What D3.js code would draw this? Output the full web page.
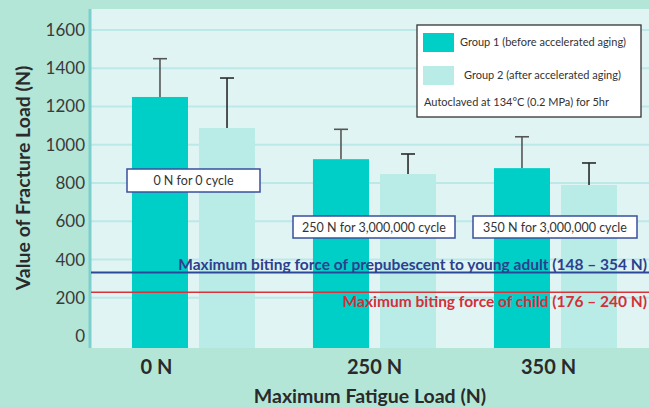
<!DOCTYPE html>
<html>
<head>
<meta charset="utf-8">
<script src="https://cdn.jsdelivr.net/npm/d3@7"></script>
<style>
  html, body { margin: 0; padding: 0; background: #b4e6d8; }
  svg { display: block; font-family: Lato, "Open Sans", sans-serif; }
</style>
</head>
<body>
<svg id="chart" width="649" height="407"></svg>
<script>
// ---- data ----
const categories = ["0 N", "250 N", "350 N"];
const seriesNames = ["Group 1 (before accelerated aging)", "Group 2 (after accelerated aging)"];
const group1Mean = [1250, 925, 878];
const group1SD = [200, 156, 164];
const group2Mean = [1088, 847, 790];
const group2SD = [261, 105, 115];
const yTicks = [0, 200, 400, 600, 800, 1000, 1200, 1400, 1600];
const cycleLabels = ["0 N for 0 cycle", "250 N for 3,000,000 cycle", "350 N for 3,000,000 cycle"];
const refLines = [
  { value: 354, label: "Maximum biting force of prepubescent to young adult (148 \u2013 354 N)" },
  { value: 240, label: "Maximum biting force of child (176 \u2013 240 N)" }
];
const noteText = "Autoclaved at 134\u00B0C (0.2 MPa) for 5hr";

// ---- layout ----
const W = 649, H = 407;
const plot = { left: 91, right: 649, top: 9, bottom: 348 };
const colors = ["#00cfc7", "#b9ebe7"];
const refColors = ["#2c4899", "#d8333b"];
const refTextColors = ["#2d3f8e", "#d3303a"];

const svg = d3.select("#chart");

svg.append("rect").attr("x", plot.left).attr("y", plot.top)
  .attr("width", plot.right - plot.left).attr("height", plot.bottom - plot.top)
  .attr("fill", "#e0f5f3");

const y = d3.scaleLinear().domain([-62, 1600]).range([plot.bottom, 30]);
const x0 = d3.scaleBand().domain(categories).range([103, 646]).paddingInner(0.32).paddingOuter(0.16);
const x1 = d3.scaleBand().domain([0, 1]).range([0, x0.bandwidth()]).paddingInner(11 / 67);

// gridlines
svg.append("g").selectAll("line").data(yTicks.slice(1)).join("line")
  .attr("x1", plot.left).attr("x2", plot.right)
  .attr("y1", d => y(d)).attr("y2", d => y(d))
  .attr("stroke", "#bde8e8").attr("stroke-width", 2);

// y axis
const yAxis = svg.append("g").attr("transform", `translate(${plot.left - 4},0)`)
  .call(d3.axisLeft(y).tickValues(yTicks).tickFormat(d3.format("d")).tickSize(0).tickPadding(2));
yAxis.select(".domain").remove();
yAxis.selectAll("text").attr("font-size", 17).attr("fill", "#3a3a3a")
  .attr("font-family", "Lato, sans-serif");
svg.append("line").attr("x1", plot.left - 1).attr("x2", plot.left - 1)
  .attr("y1", plot.top).attr("y2", plot.bottom)
  .attr("stroke", "#7ccfcc").attr("stroke-width", 3);

// bars
const data = categories.map((c, i) => ({
  cat: c,
  vals: [{ s: 0, m: group1Mean[i], sd: group1SD[i] }, { s: 1, m: group2Mean[i], sd: group2SD[i] }]
}));

const groups = svg.append("g").selectAll("g").data(data).join("g")
  .attr("transform", d => `translate(${x0(d.cat)},0)`);

groups.selectAll("g.err").data(d => d.vals).join("g").attr("class", "err")
  .each(function(d) {
    const g = d3.select(this);
    const cx = x1(d.s) + x1.bandwidth() / 2;
    const col = d.s === 0 ? "#555" : "#2a2a2a";
    g.append("line").attr("x1", cx).attr("x2", cx)
      .attr("y1", y(d.m)).attr("y2", y(d.m + d.sd))
      .attr("stroke", col).attr("stroke-width", 1.6);
    g.append("line").attr("x1", cx - 7).attr("x2", cx + 7)
      .attr("y1", y(d.m + d.sd)).attr("y2", y(d.m + d.sd))
      .attr("stroke", col).attr("stroke-width", 1.6);
  });

groups.selectAll("rect").data(d => d.vals).join("rect")
  .attr("x", d => x1(d.s)).attr("width", x1.bandwidth())
  .attr("y", d => y(d.m)).attr("height", d => y.range()[0] - y(d.m))
  .attr("fill", d => colors[d.s]);

// reference lines
refLines.forEach((r, i) => {
  const ly = y(r.value) + (i === 0 ? 4 : 2);
  svg.append("line").attr("x1", plot.left).attr("x2", plot.right)
    .attr("y1", ly).attr("y2", ly)
    .attr("stroke", refColors[i]).attr("stroke-width", i === 0 ? 2 : 1.5);
  svg.append("text").attr("x", 647).attr("y", i === 0 ? ly - 2 : ly + 15)
    .attr("text-anchor", "end").attr("font-size", 15.5).attr("font-weight", "bold")
    .attr("fill", refTextColors[i]).text(r.label);
});

// cycle annotation boxes
const boxes = [
  { x: 127, y: 169, w: 133, h: 23 },
  { x: 293, y: 216, w: 162, h: 22 },
  { x: 473, y: 216, w: 164, h: 22 }
];
cycleLabels.forEach((t, i) => {
  const b = boxes[i];
  svg.append("rect").attr("x", b.x).attr("y", b.y).attr("width", b.w).attr("height", b.h)
    .attr("fill", "#fff").attr("stroke", "#3a4f9e").attr("stroke-width", 1.5);
  svg.append("text").attr("x", b.x + b.w / 2).attr("y", b.y + b.h / 2 + 4.5)
    .attr("text-anchor", "middle").attr("font-size", 12.5).attr("fill", "#333").text(t);
});

// x axis labels
const xOffsets = [-37, 0, -7];
const xAxis = svg.append("g").attr("transform", `translate(0,${plot.bottom})`)
  .call(d3.axisBottom(x0).tickSize(0).tickPadding(12));
xAxis.select(".domain").remove();
xAxis.selectAll("text").attr("font-size", 20).attr("font-weight", "bold").attr("fill", "#2a2a2a")
  .attr("font-family", "Lato, sans-serif")
  .attr("dx", (d, i) => xOffsets[i]);

// axis titles
svg.append("text").attr("x", 370).attr("y", 403).attr("text-anchor", "middle")
  .attr("font-size", 19.5).attr("font-weight", "bold").attr("fill", "#2a2a2a")
  .text("Maximum Fatigue Load (N)");
svg.append("text").attr("transform", "translate(30,178) rotate(-90)").attr("text-anchor", "middle")
  .attr("font-size", 19.5).attr("font-weight", "bold").attr("fill", "#2a2a2a")
  .text("Value of Fracture Load (N)");

// legend
const lg = svg.append("g");
lg.append("rect").attr("x", 417).attr("y", 25).attr("width", 224).attr("height", 92)
  .attr("fill", "#fff").attr("stroke", "#333").attr("stroke-width", 1.3);
seriesNames.forEach((n, i) => {
  const yy = i === 0 ? 33 : 66;
  lg.append("rect").attr("x", 423).attr("y", yy).attr("width", 31).attr("height", 19)
    .attr("fill", colors[i]);
  lg.append("text").attr("x", i === 0 ? 460 : 464).attr("y", yy + 13)
    .attr("font-size", 11).attr("fill", "#333").text(n);
});
lg.append("text").attr("x", 424).attr("y", 106).attr("font-size", 11).attr("fill", "#333").text(noteText);
</script>
</body>
</html>
